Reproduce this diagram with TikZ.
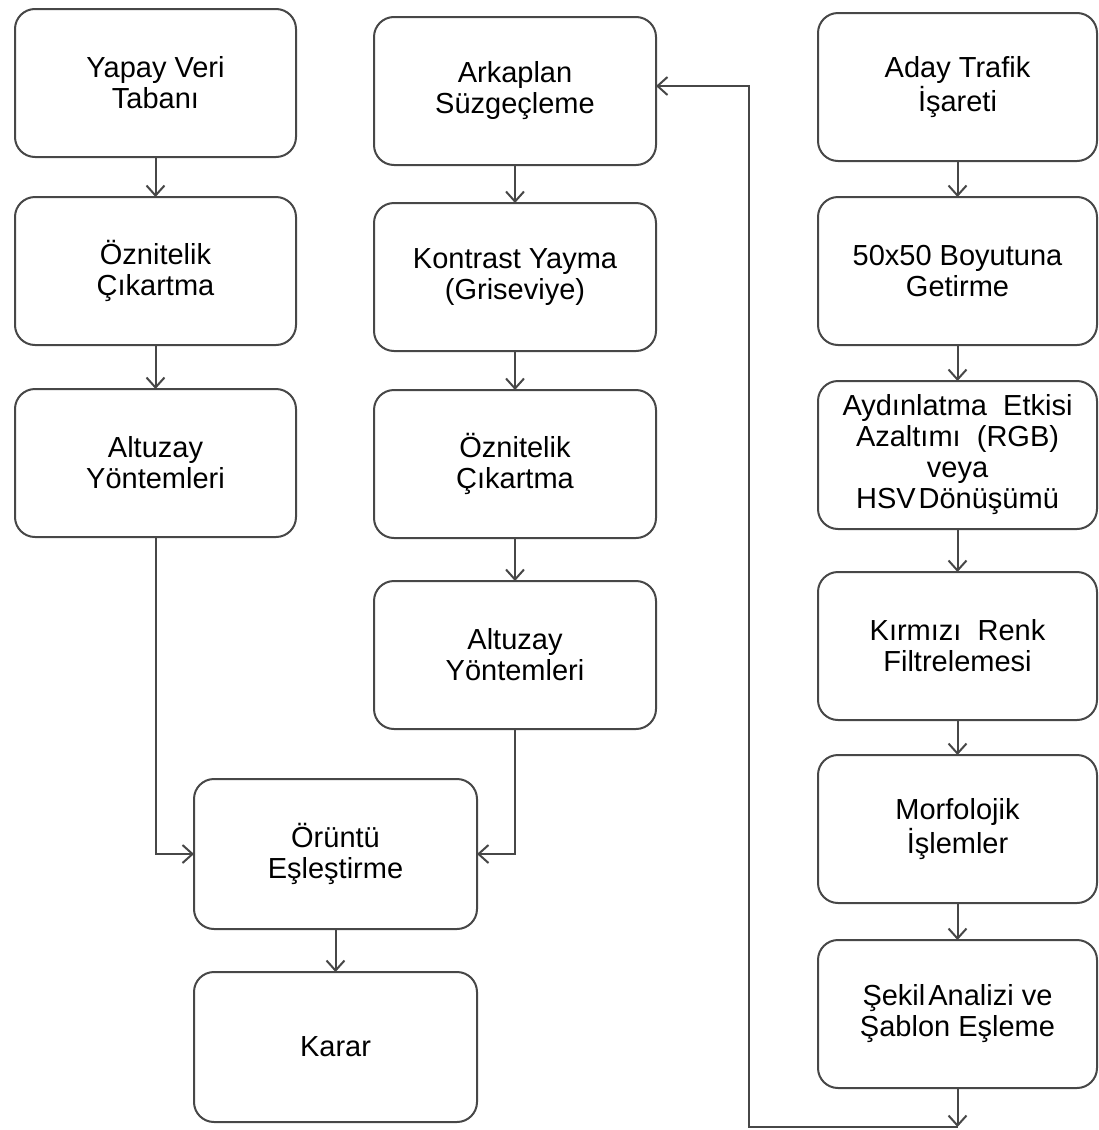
\documentclass[tikz,border=0pt]{standalone}
\usepackage{fontspec}
\setmainfont{Liberation Sans}
\usetikzlibrary{positioning,arrows.meta}

\begin{document}
\begin{tikzpicture}[x=0.5pt,y=-0.5pt,->,>={Straight Barb[length=5pt,width=9pt]},line width=1pt,
        box/.style={draw=black!72,rounded corners=10pt,minimum width=141pt,minimum height=74pt,
            align=center,inner sep=2pt,outer sep=0pt,font=\fontsize{14.5}{15.5}\selectfont},
        sag/.style={box,minimum width=139.5pt},
        every path/.append style={draw=black!72}]
        \path[use as bounding box,draw=none] (0,0) rectangle (1098,1130);

        % sol sutun
        \node[box,minimum width=140.5pt,anchor=north west] (veri) at (15,9) {Yapay Veri\\Tabanı};
        \node[box,minimum width=140.5pt] (oz1) [below=20pt of veri] {Öznitelik\\Çıkartma};
        \node[box,minimum width=140.5pt] (alt1) [below=22pt of oz1] {Altuzay\\Yöntemleri};

        % orta sutun
        \node[box,anchor=north west] (ark) at (374,17) {Arkaplan\\Süzgeçleme};
        \node[box] (kon) [below=19pt of ark] {Kontrast Yayma\\(Griseviye)};
        \node[box] (oz2) [below=19.5pt of kon] {Öznitelik\\Çıkartma};
        \node[box] (alt2) [below=21.5pt of oz2] {Altuzay\\Yöntemleri};

        \node[box,minimum width=141.5pt,minimum height=75pt,anchor=north west] (esles) at (194,779) {Örüntü\\Eşleştirme};
        \node[box,minimum width=141.5pt,minimum height=75pt] (karar) [below=21.5pt of esles] {Karar};

        % sag sutun
        \node[sag,anchor=north west] (aday) at (818,13) {Aday Trafik\\İşareti};
        \node[sag] (boyut) [below=18pt of aday] {50x50 Boyutuna\\Getirme};
        \node[sag] (aydin) [below=18pt of boyut]
            {Aydınlatma\ \ Etkisi\\Azaltımı\ \ (RGB)\\veya\\HSV\kern1.5pt Dönüşümü};
        \node[sag] (kirmizi) [below=21.5pt of aydin] {Kırmızı\ \ Renk\\Filtrelemesi};
        \node[sag] (morf) [below=17.5pt of kirmizi] {Morfolojik\\İşlemler};
        \node[sag] (sekil) [below=18.5pt of morf] {Şekil\kern1.5pt Analizi ve\\Şablon Eşleme};

        \coordinate[below=19.5pt of sekil] (dip);
        \coordinate (don) at (749,0);

        \draw (veri) -- (oz1);
        \draw (oz1) -- (alt1);
        \draw (ark) -- (kon);
        \draw (kon) -- (oz2);
        \draw (oz2) -- (alt2);
        \draw (alt1.south) |- (esles.west);
        \draw (alt2.south) |- (esles.east);
        \draw (esles) -- (karar);

        \draw (aday) -- (boyut);
        \draw (boyut) -- (aydin);
        \draw (aydin) -- (kirmizi);
        \draw (kirmizi) -- (morf);
        \draw (morf) -- (sekil);
        \draw (sekil) -- (dip);
        \draw (dip) -| ([yshift=2.5pt]don |- ark.east) -- ([yshift=2.5pt]ark.east);
    \end{tikzpicture}
\end{document}
